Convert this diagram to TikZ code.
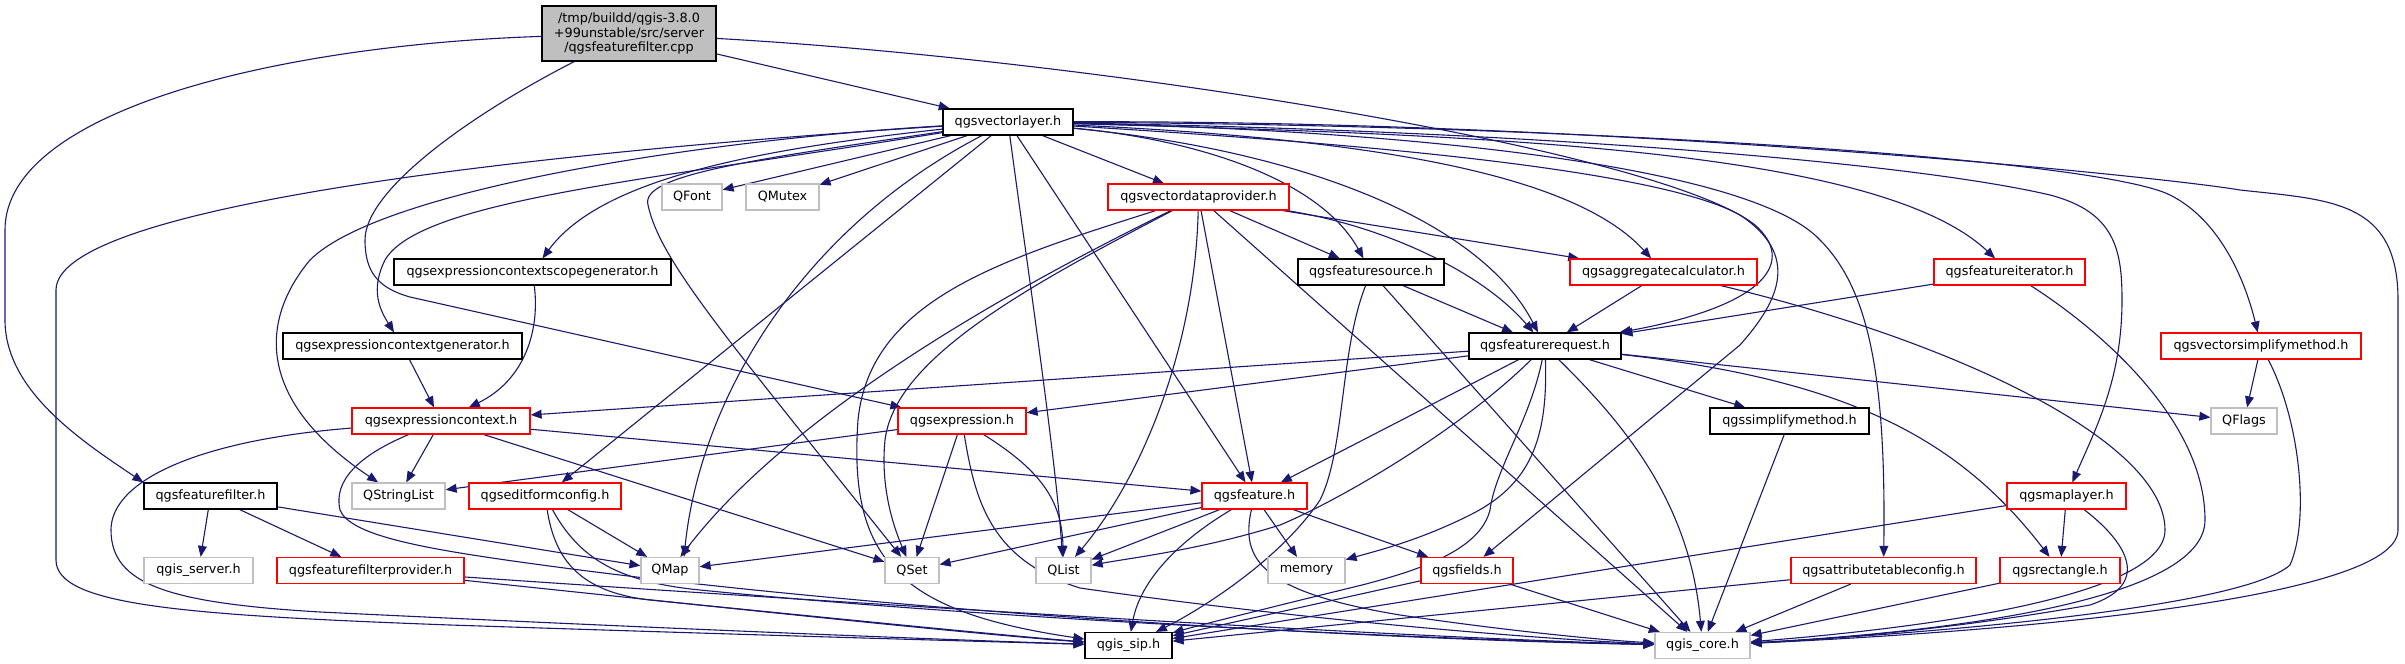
\documentclass[tikz,border=0pt]{standalone}
\usepackage{fontspec}
\newfontfamily\dv{DejaVu Sans}
\usetikzlibrary{arrows.meta,backgrounds}
\definecolor{edgecol}{HTML}{191970}
\definecolor{graybd}{HTML}{BFBFBF}
\definecolor{rootfill}{HTML}{BFBFBF}
\tikzset{
  box/.style={rectangle, inner sep=0pt, minimum height=13pt, fill=white, line width=0.6pt,
    font=\dv\fontsize{6.4pt}{7.35pt}\selectfont, align=center, text=black},
  kbox/.style={box, draw=black},
  rbox/.style={box, draw=red},
  gbox/.style={box, draw=graybd},
  e/.style={draw=edgecol, line width=0.55pt, -{Triangle[length=5.5pt,width=4.4pt]}},
}
\begin{document}
\begin{tikzpicture}[x=0.5pt,y=-0.5pt]
\useasboundingbox (0,0) rectangle (2405,664);
% nodes
\node[kbox, fill=rootfill, minimum width=87pt, minimum height=27.5pt] (root) at (629,33.5) {/tmp/buildd/qgis-3.8.0\\+99unstable/src/server\\/qgsfeaturefilter.cpp};
\node[kbox, minimum width=65pt] (vlayer) at (1008,122) {qgsvectorlayer.h};
\node[gbox, minimum width=30pt] (QFont) at (692,197) {QFont};
\node[gbox, minimum width=36.5pt] (QMutex) at (782.5,197) {QMutex};
\node[rbox, minimum width=90.5pt] (vdp) at (1198.5,197) {qgsvectordataprovider.h};
\node[kbox, minimum width=138.5pt] (scopegen) at (532.5,272) {qgsexpressioncontextscopegenerator.h};
\node[kbox, minimum width=73pt] (fsource) at (1371,272) {qgsfeaturesource.h};
\node[rbox, minimum width=93.5pt] (aggcalc) at (1663.5,272) {qgsaggregatecalculator.h};
\node[rbox, minimum width=75.5pt] (fiter) at (2009.5,272) {qgsfeatureiterator.h};
\node[kbox, minimum width=119.5pt] (ctxgen) at (402.5,346) {qgsexpressioncontextgenerator.h};
\node[kbox, minimum width=76pt] (freq) at (1545,346) {qgsfeaturerequest.h};
\node[rbox, minimum width=100pt] (vsimp) at (2261,346) {qgsvectorsimplifymethod.h};
\node[rbox, minimum width=89pt] (ctx) at (441,421) {qgsexpressioncontext.h};
\node[rbox, minimum width=64pt] (expr) at (962,421) {qgsexpression.h};
\node[kbox, minimum width=79.5pt] (simp) at (1789.5,421) {qgssimplifymethod.h};
\node[gbox, minimum width=33pt] (QFlags) at (2244,421) {QFlags};
\node[kbox, minimum width=66.5pt] (ffilter) at (210.5,496) {qgsfeaturefilter.h};
\node[gbox, minimum width=46.5pt] (QStringList) at (398.5,496) {QStringList};
\node[rbox, minimum width=76pt] (editform) at (545,496) {qgseditformconfig.h};
\node[rbox, minimum width=52.5pt] (feature) at (1254.5,496) {qgsfeature.h};
\node[rbox, minimum width=59.5pt] (maplayer) at (2066.5,496) {qgsmaplayer.h};
\node[gbox, minimum width=54.5pt] (qserver) at (198.5,570.5) {qgis\_server.h};
\node[rbox, minimum width=93.5pt] (ffprov) at (370.5,570.5) {qgsfeaturefilterprovider.h};
\node[gbox, minimum width=29pt] (QMap) at (670,570.5) {QMap};
\node[gbox, minimum width=27pt] (QSet) at (912,570.5) {QSet};
\node[gbox, minimum width=27.5pt] (QList) at (1063.5,570.5) {QList};
\node[gbox, minimum width=38.5pt] (memory) at (1306.5,570.5) {memory};
\node[rbox, minimum width=46pt] (fields) at (1467,570.5) {qgsfields.h};
\node[rbox, minimum width=92.5pt] (attrtab) at (1883.5,570.5) {qgsattributetableconfig.h};
\node[rbox, minimum width=60pt] (rect) at (2060,570.5) {qgsrectangle.h};
\node[kbox, minimum width=43.5pt] (qsip) at (1128.5,645.5) {qgis\_sip.h};
\node[gbox, minimum width=47.5pt] (qcore) at (1702.5,645.5) {qgis\_core.h};

\begin{pgfonlayer}{background}
\fill[white] (0,0) rectangle (2405,664);
% root
\draw[e] (root) -- (vlayer);
\draw[e] (root) .. controls (280,45) and (5,110) .. (5,230) -- (5,320) .. controls (5,390) and (80,440) .. (ffilter.north west);
\draw[e] (root) .. controls (470,115) and (365,190) .. (365,240) .. controls (365,272) and (378,288) .. (410,297) -- (expr);
\draw[e] (root) .. controls (1100,60) and (1660,150) .. (1755,225) .. controls (1795,260) and (1770,305) .. (freq);
% qgsvectorlayer
\draw[e] (vlayer) .. controls (600,148) and (56,200) .. (56,290) -- (56,560) .. controls (56,605) and (180,615) .. (450,625) .. controls (750,635) and (1000,642) .. (qsip);
\draw[e] (vlayer) .. controls (700,140) and (380,190) .. (310,260) .. controls (260,320) and (255,400) .. (QStringList);
\draw[e] (vlayer) .. controls (650,180) and (420,200) .. (385,260) .. controls (370,290) and (380,310) .. (ctxgen);
\draw[e] (vlayer) .. controls (750,150) and (600,180) .. (scopegen);
\draw[e] (vlayer) -- (QFont);
\draw[e] (vlayer) -- (QMutex);
\draw[e] (vlayer) .. controls (750,160) and (640,175) .. (648,205) .. controls (660,260) and (720,330) .. (QSet);
\draw[e] (vlayer) .. controls (800,230) and (700,400) .. ([xshift=7pt]QMap.north);
\draw[e] (vlayer) -- (editform);
\draw[e] (vlayer) .. controls (1025,250) and (1055,450) .. (QList);
\draw[e] (vlayer) -- (feature);
\draw[e] (vlayer) -- (vdp);
\draw[e] (vlayer) .. controls (1200,140) and (1320,180) .. (fsource);
\draw[e] (vlayer) .. controls (1300,150) and (1480,220) .. (freq);
\draw[e] (vlayer) .. controls (1400,140) and (1580,180) .. (aggcalc);
\draw[e] (vlayer) .. controls (1300,140) and (1650,165) .. (1740,215) .. controls (1800,255) and (1780,300) .. (1740,345) -- (fields);
\draw[e] (vlayer) .. controls (1400,130) and (1750,165) .. (1820,240) .. controls (1870,290) and (1886,380) .. (attrtab);
\draw[e] (vlayer) .. controls (1500,135) and (1880,150) .. (fiter);
\draw[e] (vlayer) .. controls (1500,130) and (1900,160) .. (2050,195) .. controls (2115,212) and (2122,250) .. (2122,300) .. controls (2122,380) and (2095,430) .. (maplayer);
\draw[e] (vlayer) .. controls (1600,125) and (2100,160) .. (2170,195) .. controls (2220,220) and (2245,280) .. (vsimp);
\draw[e] (vlayer) .. controls (1600,120) and (2150,175) .. (2240,190) .. controls (2330,200) and (2398,200) .. (2398,300) -- (2398,530) .. controls (2398,600) and (2000,632) .. (qcore);
% qgsvectordataprovider
\draw[e] (vdp) -- (fsource);
\draw[e] (vdp) -- (aggcalc);
\draw[e] (vdp) .. controls (1380,225) and (1480,270) .. (freq);
\draw[e] (vdp) -- (feature);
\draw[e] (vdp) -- (qcore);
\draw[e] (vdp) .. controls (1195,350) and (1140,480) .. (QList);
\draw[e] (vdp) .. controls (1000,260) and (870,300) .. (858,420) .. controls (848,560) and (900,612) .. (qsip);
\draw[e] (vdp) .. controls (1050,270) and (800,400) .. (QMap);
\draw[e] (vdp) .. controls (1020,290) and (895,360) .. (885,440) .. controls (880,490) and (895,530) .. (QSet);
% generators
\draw[e] (scopegen) .. controls (540,330) and (525,380) .. (ctx);
\draw[e] (ctxgen) -- (ctx);
% qgsexpressioncontext
\draw[e] (ctx) .. controls (200,440) and (111,480) .. (111,530) .. controls (111,585) and (170,603) .. (320,612) .. controls (650,628) and (950,640) .. (qsip);
\draw[e] (ctx) -- (QStringList);
\draw[e] (ctx) .. controls (360,455) and (333,480) .. (340,510) .. controls (350,535) and (420,548) .. (520,562) .. controls (900,615) and (1400,640) .. (qcore);
\draw[e] (ctx) -- (QSet);
\draw[e] (ctx) -- (feature);
% qgsexpression
\draw[e] (expr) -- (QStringList);
\draw[e] (expr) -- (QSet);
\draw[e] (expr) .. controls (1040,470) and (1062,500) .. (QList);
\draw[e] (expr) .. controls (975,500) and (990,560) .. (1080,588) .. controls (1300,620) and (1550,640) .. (qcore);
% qgsfeaturefilter
\draw[e] (ffilter) -- (qserver);
\draw[e] (ffilter) -- (ffprov);
\draw[e] (ffilter) -- (QMap);
% qgsfeaturefilterprovider
\draw[e] (ffprov) .. controls (700,605) and (950,632) .. (qsip);
\draw[e] (ffprov) .. controls (800,600) and (1400,638) .. (qcore);
% qgseditformconfig
\draw[e] (editform) -- (QMap);
\draw[e] (editform) .. controls (555,560) and (580,592) .. (650,600) .. controls (850,620) and (1000,635) .. (qsip);
\draw[e] (editform) .. controls (580,560) and (620,582) .. (700,590) .. controls (1000,620) and (1450,640) .. (qcore);
% qgsfeaturesource
\draw[e] (fsource) -- (freq);
\draw[e] (fsource) .. controls (1340,350) and (1345,450) .. (1320,500) .. controls (1280,560) and (1200,610) .. (qsip);
\draw[e] (fsource) -- (qcore);
% qgsaggregatecalculator
\draw[e] (aggcalc) -- (freq);
\draw[e] (aggcalc) .. controls (1950,340) and (2165,440) .. (2165,530) .. controls (2165,600) and (1900,630) .. (qcore);
% qgsfeatureiterator
\draw[e] (fiter) -- (freq);
\draw[e] (fiter) .. controls (2100,330) and (2205,420) .. (2205,520) .. controls (2205,600) and (1950,632) .. (qcore);
% qgsfeaturerequest
\draw[e] (freq) -- (ctx);
\draw[e] (freq) -- (expr);
\draw[e] (freq) -- (feature);
\draw[e] (freq) .. controls (1460,430) and (1340,500) .. (1280,525) .. controls (1200,550) and (1130,558) .. (QList);
\draw[e] (freq) .. controls (1548,440) and (1530,485) .. (1470,515) .. controls (1420,540) and (1380,550) .. (memory);
\draw[e] (freq) .. controls (1530,420) and (1495,470) .. (1490,510) .. controls (1480,550) and (1420,570) .. (1362,585) .. controls (1280,605) and (1200,625) .. (qsip);
\draw[e] (freq) .. controls (1620,420) and (1690,500) .. (qcore);
\draw[e] (freq) -- (simp);
\draw[e] (freq) -- (QFlags);
\draw[e] (freq) .. controls (1850,380) and (1960,440) .. (rect);
% qgsfeature
\draw[e] (feature) -- (QMap);
\draw[e] (feature) -- (QSet);
\draw[e] (feature) -- (QList);
\draw[e] (feature) .. controls (1180,540) and (1140,580) .. (qsip);
\draw[e] (feature) -- (memory);
\draw[e] (feature) -- (fields);
\draw[e] (feature) .. controls (1240,560) and (1262,592) .. (1400,615) .. controls (1500,630) and (1600,640) .. (qcore);
% qgsfields
\draw[e] (fields) -- (qsip);
\draw[e] (fields) -- (qcore);
% qgsmaplayer
\draw[e] (maplayer) -- (qsip);
\draw[e] (maplayer) -- (rect);
\draw[e] (maplayer) .. controls (2130,545) and (2150,585) .. (2090,605) .. controls (1950,630) and (1820,640) .. (qcore);
% others
\draw[e] (attrtab) -- (qsip);
\draw[e] (attrtab) -- (qcore);
\draw[e] (rect) -- (qcore);
\draw[e] (simp) -- (qcore);
\draw[e] (vsimp) -- (QFlags);
\draw[e] (vsimp) .. controls (2300,420) and (2310,520) .. (2290,565) .. controls (2240,610) and (1900,635) .. (qcore);
\end{pgfonlayer}
\end{tikzpicture}
\end{document}
